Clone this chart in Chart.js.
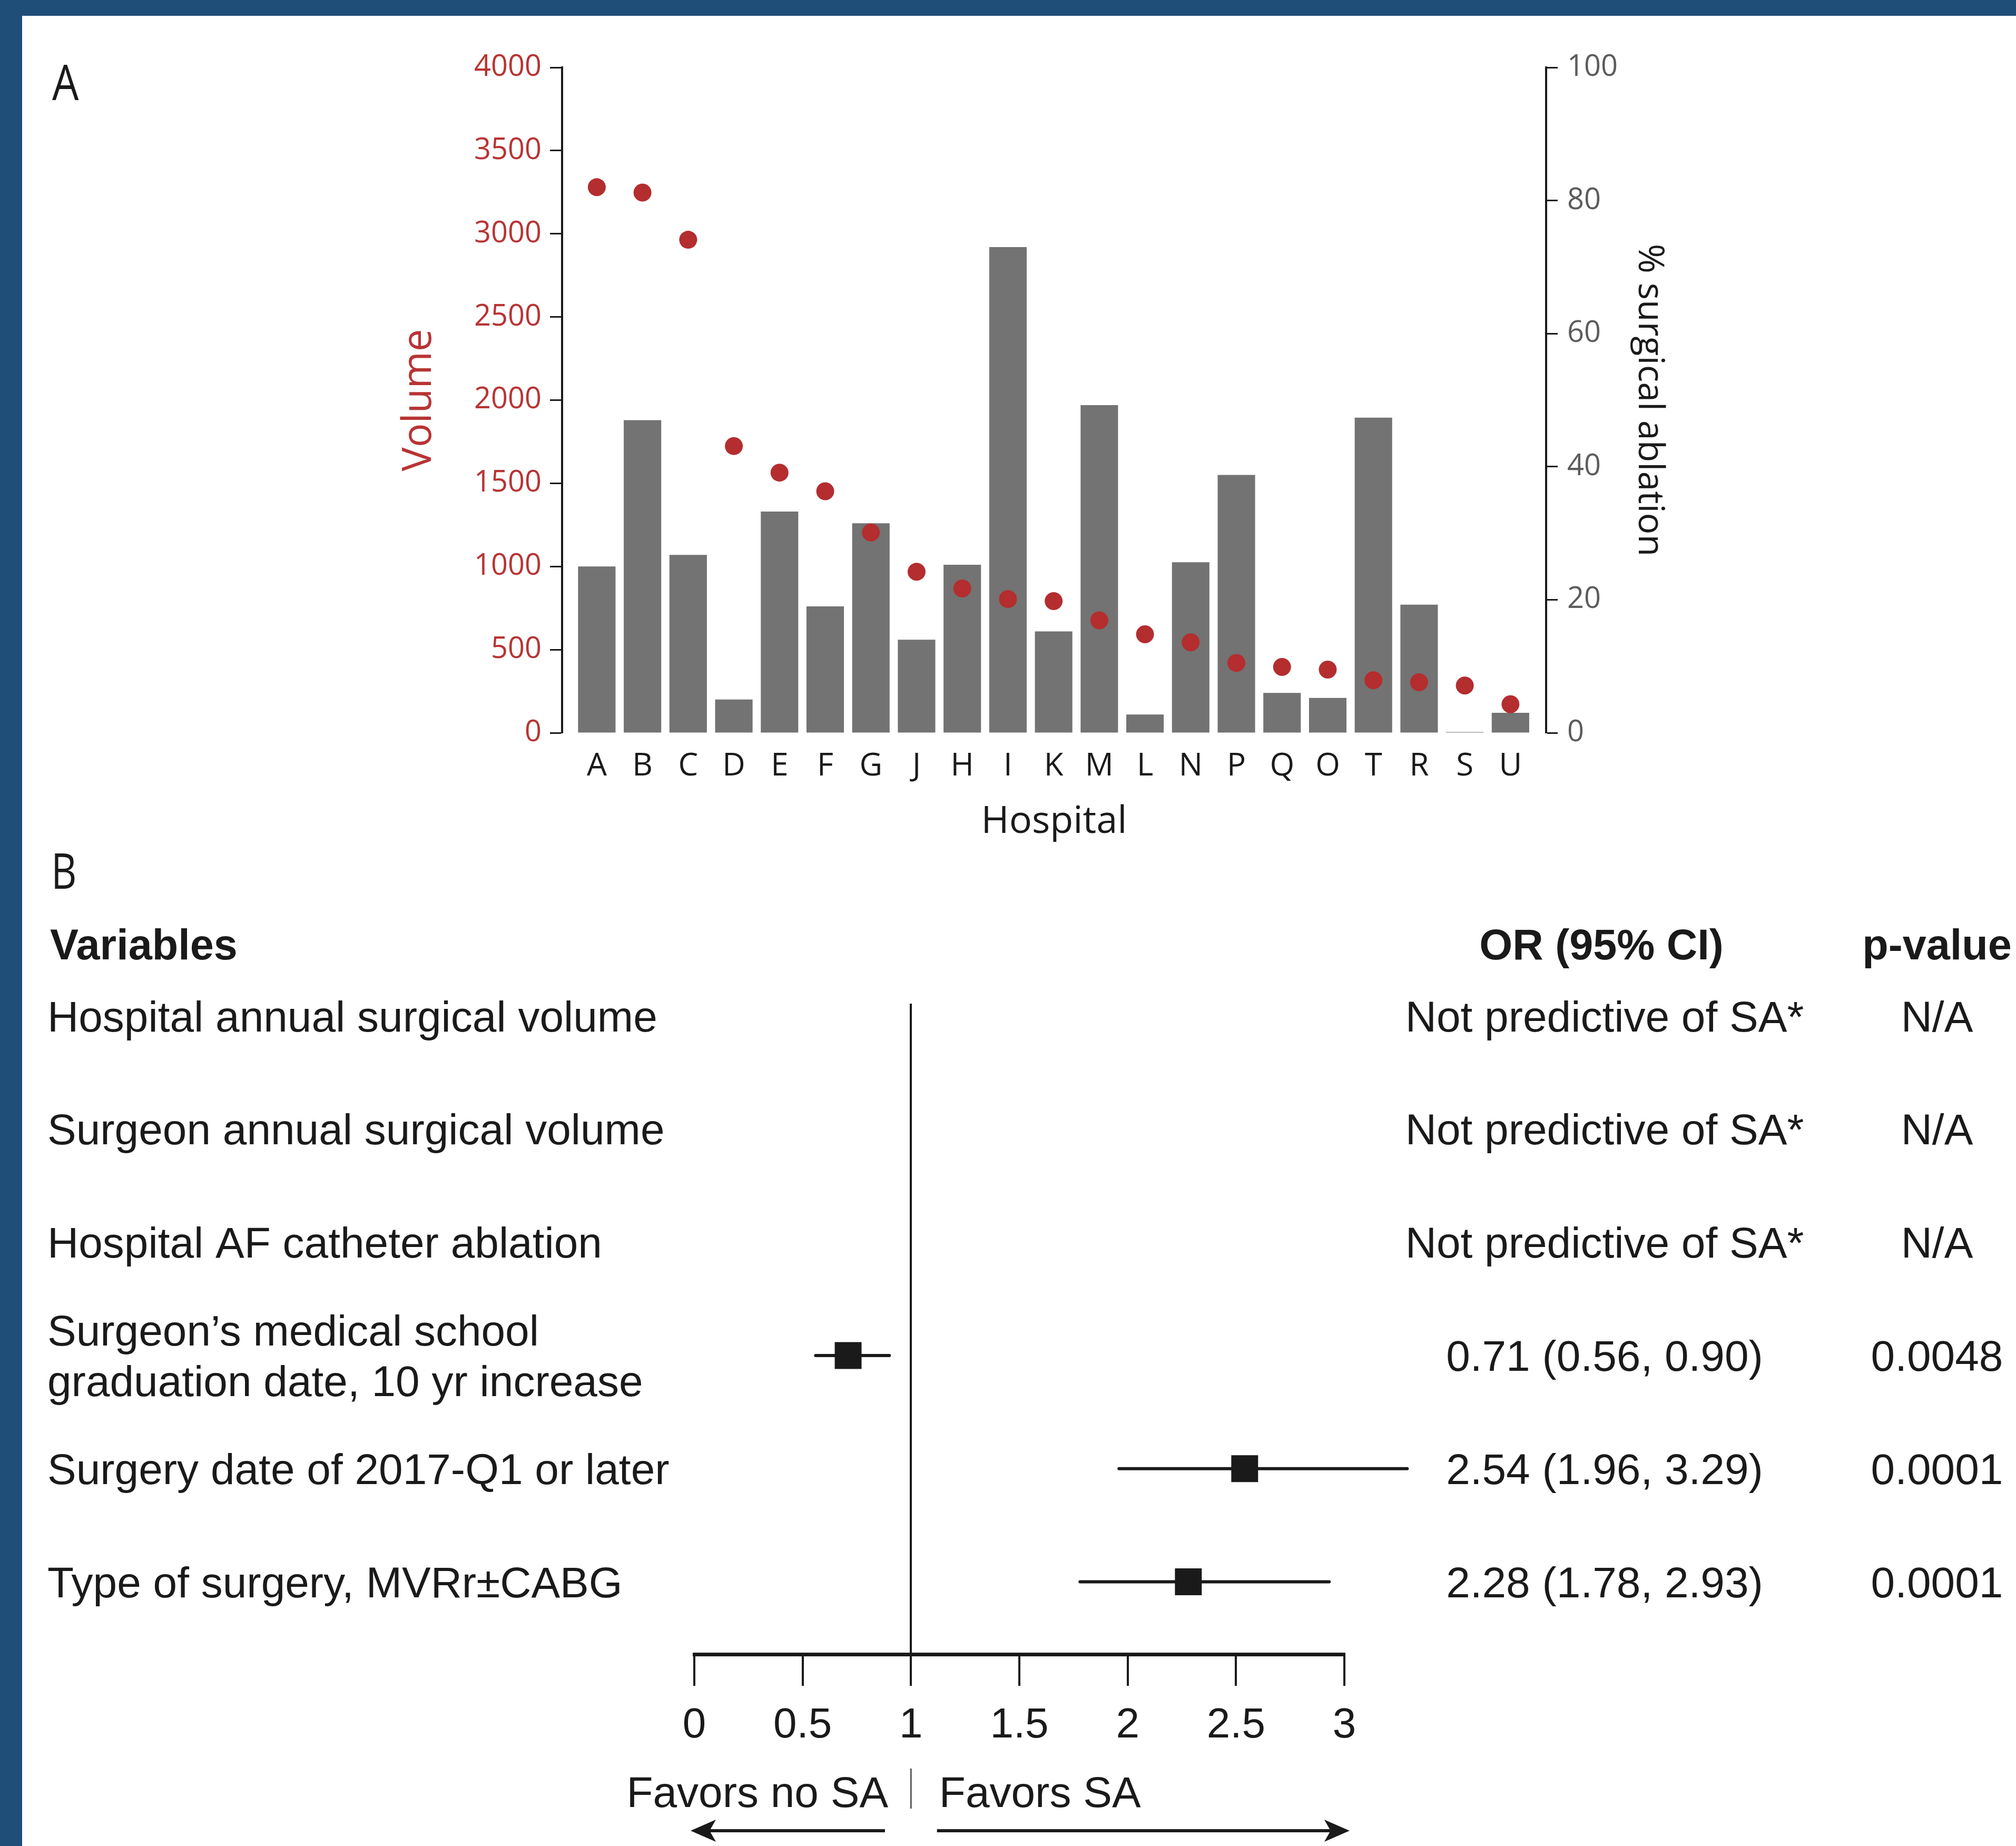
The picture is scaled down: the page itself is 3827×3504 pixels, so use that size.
<!DOCTYPE html>
<html lang="en">
<head>
    <meta charset="UTF-8">
    <meta name="viewport" content="width=device-width, initial-scale=1.0">
    <title>Surgical ablation by hospital</title>
    <script src="https://cdn.jsdelivr.net/npm/chart.js@4.4.1/dist/chart.umd.min.js"></script>
    <style>
        html, body { margin: 0; padding: 0; }
        body { position: relative; width: 3827px; height: 3504px; background: #1f4e79; overflow: hidden; }
        #sheet { position: absolute; left: 42px; top: 30px; right: 0; bottom: 0; background: #fff; }
        canvas { position: absolute; left: 0; }
        #chartA { top: 0; }
        #chartB { top: 1600px; }
    </style>
</head>
<body>
    <div id="sheet"></div>
    <canvas id="chartA" width="3827" height="1660"></canvas>
    <canvas id="chartB" width="3827" height="1904"></canvas>
    <script>
        // panel A - hospitals ordered by % surgical ablation
        const hospitals = ["A", "B", "C", "D", "E", "F", "G", "J", "H", "I", "K", "M", "L", "N", "P", "Q", "O", "T", "R", "S", "U"];
        const volume = [1000, 1880, 1070, 200, 1330, 760, 1260, 560, 1010, 2920, 610, 1970, 110, 1025, 1550, 240, 210, 1895, 770, 5, 120];
        const pctSA = [82.0, 81.2, 74.1, 43.1, 39.1, 36.3, 30.1, 24.2, 21.7, 20.1, 19.8, 16.9, 14.8, 13.6, 10.5, 9.9, 9.5, 7.9, 7.6, 7.1, 4.3];

        // panel B - odds ratios
        const variables = [
            ["Hospital annual surgical volume"],
            ["Surgeon annual surgical volume"],
            ["Hospital AF catheter ablation"],
            ["Surgeon\u2019s medical school", "graduation date, 10 yr increase"],
            ["Surgery date of 2017-Q1 or later"],
            ["Type of surgery, MVRr\u00b1CABG"]
        ];
        const orEst = [null, null, null, 0.71, 2.54, 2.28];
        const ciLow = [null, null, null, 0.56, 1.96, 1.78];
        const ciHigh = [null, null, null, 0.90, 3.29, 2.93];
        const pValues = ["N/A", "N/A", "N/A", "0.0048", "0.0001", "0.0001"];

        const red = "#b83434";
        const dotRed = "#b42d2f";
        const barGray = "#727372";
        const ink = "#1a1a1a";
        const sansA = '"Open Sans", sans-serif';
        const sansB = '"Liberation Sans", Arial, sans-serif';

        Chart.defaults.animation = false;
        Chart.defaults.font.family = sansA;
        Chart.defaults.plugins.legend.display = false;
        Chart.defaults.plugins.tooltip.enabled = false;

        function narrowText(ctx, text, x, y, font, sx) {
            ctx.save();
            ctx.translate(x, y);
            ctx.scale(sx, 1);
            ctx.font = font;
            ctx.fillText(text, 0, 0);
            ctx.restore();
        }

        const letterA = {
            id: "letterA",
            afterDraw(chart) {
                const ctx = chart.ctx;
                ctx.save();
                ctx.fillStyle = ink;
                ctx.textBaseline = "alphabetic";
                narrowText(ctx, "A", 99, 190, "94px " + sansA, 0.85);
                ctx.restore();
            }
        };

        new Chart("chartA", {
            type: "bar",
            data: {
                datasets: [{
                    type: "scatter",
                    data: pctSA.map((v, i) => ({ x: i, y: v })),
                    xAxisID: "x",
                    yAxisID: "y2",
                    pointRadius: 17,
                    pointBackgroundColor: dotRed,
                    pointBorderWidth: 0,
                    order: 0
                }, {
                    type: "bar",
                    data: volume.map((v, i) => ({ x: i, y: v })),
                    xAxisID: "x",
                    yAxisID: "y",
                    backgroundColor: barGray,
                    borderWidth: 0,
                    barPercentage: 0.82,
                    categoryPercentage: 1,
                    order: 1
                }]
            },
            options: {
                responsive: false,
                layout: { padding: { left: 600, right: 632, top: 128, bottom: 39 } },
                scales: {
                    x: {
                        type: "linear",
                        offset: false,
                        min: -0.76,
                        max: 20.78,
                        afterBuildTicks: s => { s.ticks = hospitals.map((h, i) => ({ value: i })); },
                        ticks: {
                            autoSkip: false,
                            maxRotation: 0,
                            callback: v => hospitals[v],
                            color: ink,
                            font: { size: 60 },
                            padding: 20
                        },
                        grid: { display: false },
                        border: { display: false },
                        title: {
                            display: true,
                            text: "Hospital",
                            color: ink,
                            font: { size: 72 },
                            padding: { top: 0, bottom: 17 }
                        },
                        afterFit: s => { s.height = 230; }
                    },
                    y: {
                        position: "left",
                        min: 0,
                        max: 4000,
                        ticks: {
                            stepSize: 500,
                            callback: v => String(v),
                            color: red,
                            font: { size: 56 },
                            padding: 16
                        },
                        grid: { drawOnChartArea: false, tickLength: 23, tickColor: ink, tickWidth: 3 },
                        border: { display: true, color: ink, width: 4 },
                        title: {
                            display: true,
                            text: "Volume",
                            color: red,
                            font: { size: 76 },
                            padding: { top: 151, bottom: 0 }
                        },
                        afterFit: s => { s.width = 467; }
                    },
                    y2: {
                        position: "right",
                        min: 0,
                        max: 100,
                        ticks: {
                            stepSize: 20,
                            callback: v => String(v),
                            color: "#5c5c5c",
                            font: { size: 56 },
                            padding: 18
                        },
                        grid: { drawOnChartArea: false, tickLength: 22, tickColor: ink, tickWidth: 3 },
                        border: { display: true, color: ink, width: 4 },
                        title: {
                            display: true,
                            text: "% surgical ablation",
                            color: ink,
                            font: { size: 68 },
                            padding: { top: 24, bottom: 0 }
                        },
                        afterFit: s => { s.width = 260; }
                    }
                }
            },
            plugins: [letterA]
        });

        // panel B: table text, favors labels and arrows
        function arrow(ctx, from, to, y) {
            const dir = Math.sign(to - from);
            ctx.beginPath();
            ctx.moveTo(from, y);
            ctx.lineTo(to - dir * 30, y);
            ctx.stroke();
            ctx.beginPath();
            ctx.moveTo(to, y);
            ctx.lineTo(to - dir * 48, y - 21);
            ctx.lineTo(to - dir * 36, y);
            ctx.lineTo(to - dir * 48, y + 21);
            ctx.closePath();
            ctx.fill();
        }

        const forestText = {
            id: "forestText",
            afterDraw(chart) {
                const ctx = chart.ctx;
                const xs = chart.scales.x;
                const ys = chart.scales.y;
                const base = chart.chartArea.bottom;
                ctx.save();
                ctx.fillStyle = ink;
                ctx.strokeStyle = ink;
                ctx.textBaseline = "alphabetic";

                narrowText(ctx, "B", 97, 87, "94px " + sansA, 0.8);

                const headY = ys.getPixelForValue(0.5);
                ctx.font = "bold 81px " + sansB;
                ctx.textAlign = "left";
                ctx.fillText("Variables", 95, headY);
                ctx.textAlign = "center";
                ctx.fillText("OR (95% CI)", 3040, headY);
                ctx.fillText("p-value", 3677, headY);

                ctx.font = "82px " + sansB;
                variables.forEach((lines, i) => {
                    const c = ys.getPixelForValue(i + 1);
                    ctx.textAlign = "left";
                    lines.forEach((t, k) => {
                        ctx.fillText(t, 90, c + 29 + (k - (lines.length - 1) / 2) * 96);
                    });
                    const orText = orEst[i] === null ? "Not predictive of SA*"
                        : orEst[i].toFixed(2) + " (" + ciLow[i].toFixed(2) + ", " + ciHigh[i].toFixed(2) + ")";
                    ctx.textAlign = "center";
                    ctx.fillText(orText, 3046, c + 29);
                    ctx.fillText(pValues[i], 3677, c + 29);
                });

                ctx.textAlign = "right";
                ctx.fillText("Favors no SA", xs.getPixelForValue(0.895), base + 290);
                ctx.textAlign = "left";
                ctx.fillText("Favors SA", xs.getPixelForValue(1.13), base + 290);

                ctx.lineWidth = 2;
                ctx.beginPath();
                ctx.moveTo(xs.getPixelForValue(1), base + 217);
                ctx.lineTo(xs.getPixelForValue(1), base + 293);
                ctx.stroke();

                ctx.lineWidth = 6;
                arrow(ctx, xs.getPixelForValue(0.88), xs.getPixelForValue(-0.017), base + 335);
                arrow(ctx, xs.getPixelForValue(1.12), xs.getPixelForValue(3.024), base + 335);
                ctx.restore();
            }
        };

        const ciSets = orEst.map((est, i) => est === null ? null : {
            type: "line",
            data: [{ x: ciLow[i], y: i + 1 }, { x: ciHigh[i], y: i + 1 }],
            showLine: true,
            borderColor: ink,
            borderWidth: 6,
            borderCapStyle: "round",
            pointRadius: 0,
            clip: false,
            order: 2
        }).filter(Boolean);

        new Chart("chartB", {
            type: "scatter",
            data: {
                datasets: [{
                    type: "scatter",
                    data: orEst.map((est, i) => est === null ? null : { x: est, y: i + 1 }).filter(Boolean),
                    pointStyle: "rect",
                    pointRadius: 36,
                    pointBackgroundColor: ink,
                    pointBorderWidth: 0,
                    clip: false,
                    order: 1
                }].concat(ciSets)
            },
            options: {
                responsive: false,
                layout: { padding: { left: 1318, right: 1275, top: 305, bottom: 164 } },
                scales: {
                    x: {
                        type: "linear",
                        min: 0,
                        max: 3,
                        ticks: {
                            stepSize: 0.5,
                            autoSkip: false,
                            maxRotation: 0,
                            callback: v => String(v),
                            color: ink,
                            font: { family: sansB, size: 80 },
                            padding: 28
                        },
                        grid: {
                            color: c => (c.tick && c.tick.value === 1) ? ink : "rgba(0,0,0,0)",
                            lineWidth: 4,
                            tickColor: ink,
                            tickWidth: 4,
                            tickLength: 60
                        },
                        border: { display: true, color: ink, width: 7 },
                        afterFit: s => { s.height = 200; }
                    },
                    y: {
                        type: "linear",
                        display: false,
                        reverse: true,
                        min: 0.89,
                        max: 6.64
                    }
                }
            },
            plugins: [forestText]
        });
    </script>
</body>
</html>
